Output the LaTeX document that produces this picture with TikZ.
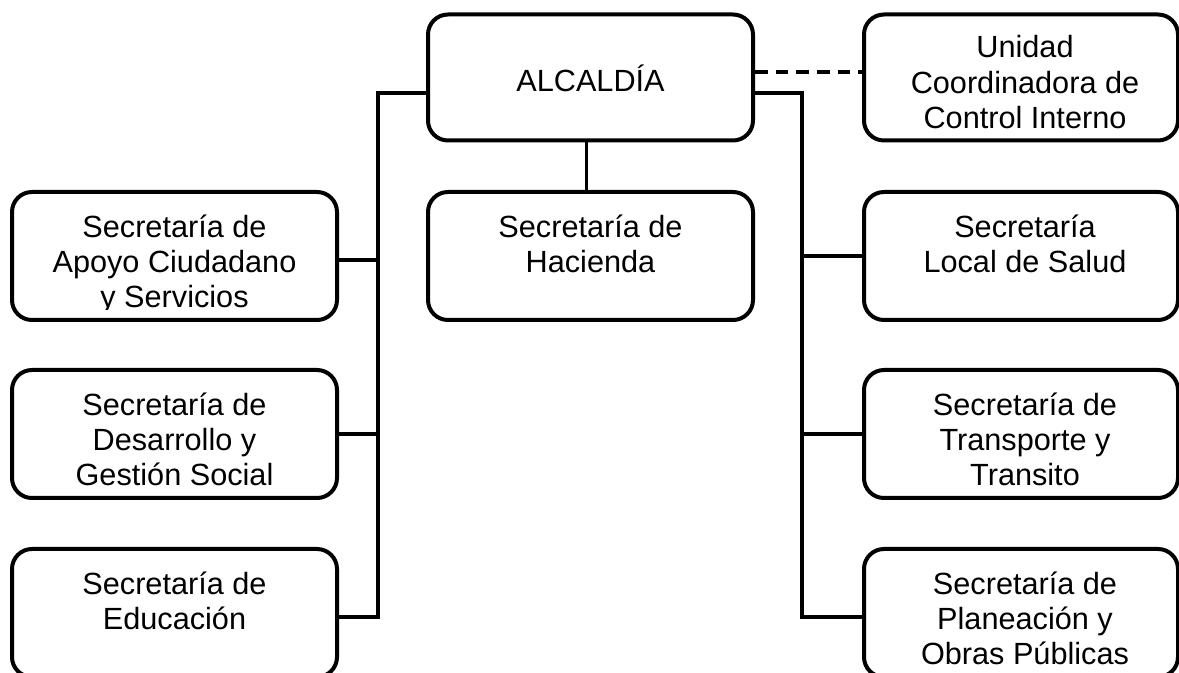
\documentclass[tikz,border=0pt]{standalone}
\usepackage{fontspec}
\setmainfont{Liberation Sans}
\usetikzlibrary{calc}
\begin{document}
\begin{tikzpicture}[x=0.75pt,y=-0.75pt,
  box/.style={draw=black, line width=3pt, rounded corners=15pt, fill=white,
    minimum width=243.75pt, minimum height=96pt, inner sep=0pt},
  rbox/.style={box, minimum width=235.5pt},
  topbox/.style={minimum height=94.5pt},
  conn/.style={draw=black, line width=2.3pt},
  dashconn/.style={conn, dash pattern=on 9.5pt off 6pt},
  txt/.style={align=center, inner sep=0pt, anchor=north,
    font=\fontsize{23pt}{26.3pt}\selectfont,
    execute at begin node={\rule{0pt}{22pt}}}]
\useasboundingbox (0,0) rectangle (1179,673);
\clip (0,0) rectangle (1179,673);
\fill[white] (0,0) rectangle (1179,673);

% boxes
\node[box, topbox] (alc) at (590.5,77.5) {};
\node[rbox, topbox] (ucci) at (1021,77.5) {};
\node[box] (hac) at (590.5,256) {};
\node[box] (s1) at (174.5,256) {};
\node[box] (s2) at (174.5,434) {};
\node[box] (s3) at (174.5,613) {};
\node[rbox] (r1) at (1021,256) {};
\node[rbox] (r2) at (1021,434) {};
\node[rbox] (r3) at (1021,613) {};

% connectors
\coordinate (lj) at (378,93);
\coordinate (rj) at (802,93);
\draw[conn] (alc.west |- lj) -- (lj) |- ($(s3.east)+(0,4)$);
\draw[conn] ($(s1.east)+(0,4)$) -- ($(lj |- s1.east)+(0,4)$);
\draw[conn] (s2.east) -- (lj |- s2.east);
\draw[conn] (alc.east |- rj) -- (rj) |- ($(r3.west)+(0,4)$);
\draw[conn] (r1.west) -- (rj |- r1.west);
\draw[conn] (r2.west) -- (rj |- r2.west);
\draw[conn] ($(alc.south)+(-4,0)$) -- ($(hac.north)+(-4,0)$);
\draw[dashconn] ($(alc.east)+(0,-5.5)$) -- ($(ucci.west)+(0,-5.5)$);

% texts
\node[anchor=base, inner sep=0pt, font=\fontsize{23pt}{26.3pt}\selectfont] (talc) at ($(alc.north)+(0,79)$) {ALCALDÍA};
\node[txt] (tucci) at ($(ucci.north)+(4,23)$) {Unidad\\Coordinadora de\\Control Interno};
\node[txt] (thac) at ($(hac.north)+(0,25)$) {Secretaría de\\Hacienda};
\begin{scope}
\clip (11,192) rectangle (338,310);
\node[txt] (ts1) at ($(s1.north)+(0,25)$) {Secretaría de\\Apoyo Ciudadano\\y Servicios};
\end{scope}
\node[txt] (ts2) at ($(s2.north)+(0,25)$) {Secretaría de\\Desarrollo y\\Gestión Social};
\node[txt] (ts3) at ($(s3.north)+(0,25)$) {Secretaría de\\Educación};
\node[txt] (tr1) at ($(r1.north)+(4,25)$) {Secretaría\\Local de Salud};
\node[txt] (tr2) at ($(r2.north)+(4,25)$) {Secretaría de\\Transporte y\\Transito};
\node[txt] (tr3) at ($(r3.north)+(4,25)$) {Secretaría de\\Planeación y\\Obras Públicas};
\end{tikzpicture}
\end{document}
